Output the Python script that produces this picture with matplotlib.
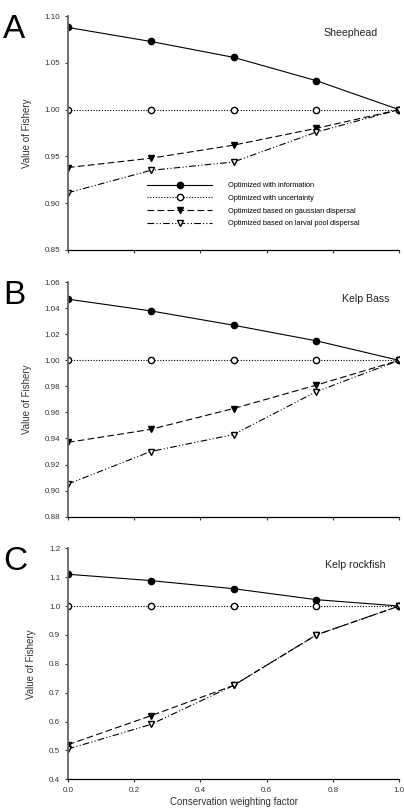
import matplotlib
matplotlib.use('Agg')
from matplotlib import pyplot as plt

plt.rcParams['font.family'] = ['Liberation Sans', 'DejaVu Sans']

weights = [0.0, 0.25, 0.5, 0.75, 1.0]

sheephead_info = [1.088, 1.073, 1.056, 1.031, 1.000]
sheephead_unc = [1.0, 1.0, 1.0, 1.0, 1.0]
sheephead_gauss = [0.938, 0.948, 0.962, 0.980, 1.000]
sheephead_larval = [0.911, 0.935, 0.944, 0.976, 1.000]

kelpbass_info = [1.047, 1.038, 1.027, 1.015, 1.000]
kelpbass_unc = [1.0, 1.0, 1.0, 1.0, 1.0]
kelpbass_gauss = [0.937, 0.947, 0.963, 0.981, 1.000]
kelpbass_larval = [0.905, 0.930, 0.943, 0.976, 1.000]

rockfish_info = [1.110, 1.088, 1.060, 1.022, 1.000]
rockfish_unc = [1.0, 1.0, 1.0, 1.0, 1.0]
rockfish_gauss = [0.520, 0.620, 0.725, 0.900, 1.000]
rockfish_larval = [0.505, 0.590, 0.725, 0.900, 1.000]

labels = ['Optimized with information', 'Optimized with uncertainty',
          'Optimized based on gaussian dispersal', 'Optimized based on larval pool dispersal']


def draw_panel(ax, info, unc, gauss, larval, ylim, yticks, fmt, letter, name, name_x):
    lw = 0.8
    ms = 4.5
    ax.plot(weights, info, color='black', lw=lw, marker='o', ms=ms, mfc='black', mec='black', label=labels[0])
    ax.plot(weights, unc, color='black', lw=lw, ls=(0, (1, 1.5)), marker='o', ms=ms, mfc='white', mec='black', label=labels[1])
    ax.plot(weights, gauss, color='black', lw=lw, ls=(0, (6, 3)), marker='v', ms=ms, mfc='black', mec='black', label=labels[2])
    ax.plot(weights, larval, color='black', lw=lw, ls=(0, (6, 2, 1, 2, 1, 2)), marker='v', ms=ms, mfc='white', mec='black', label=labels[3])
    ax.set_xlim(0, 1.0)
    ax.set_ylim(*ylim)
    ax.set_yticks(yticks)
    ax.set_yticklabels([fmt.format(v) for v in yticks])
    ax.set_xticks([0.0, 0.2, 0.4, 0.6, 0.8, 1.0])
    for s in ['top', 'right']:
        ax.spines[s].set_visible(False)
    ax.spines['left'].set_color('#666666')
    ax.spines['left'].set_linewidth(1.3)
    ax.spines['bottom'].set_linewidth(0.9)
    ax.tick_params(direction='out', length=2.5, width=0.8, labelsize=5.8, colors='#333333', pad=3)
    ax.set_ylabel('Value of Fishery', fontsize=7, color='#333333', labelpad=9)
    ax.text(-0.195, 1.01, letter, transform=ax.transAxes, fontsize=24, va='top', ha='left')
    ax.text(name_x, 0.927, name, transform=ax.transAxes, fontsize=7.6, ha='right', va='center', color='#222222')


fig = plt.figure(figsize=(4.04, 8.11), dpi=100)
ax_a = fig.add_axes([0.168, 0.692, 0.820, 0.288])
ax_b = fig.add_axes([0.168, 0.363, 0.820, 0.289])
ax_c = fig.add_axes([0.168, 0.039, 0.820, 0.285])

draw_panel(ax_a, sheephead_info, sheephead_unc, sheephead_gauss, sheephead_larval,
           (0.85, 1.10), [0.85, 0.90, 0.95, 1.00, 1.05, 1.10], '{:.2f}', 'A', 'Sheephead', 0.935)
draw_panel(ax_b, kelpbass_info, kelpbass_unc, kelpbass_gauss, kelpbass_larval,
           (0.88, 1.06), [0.88, 0.90, 0.92, 0.94, 0.96, 0.98, 1.00, 1.02, 1.04, 1.06], '{:.2f}', 'B', 'Kelp Bass', 0.97)
draw_panel(ax_c, rockfish_info, rockfish_unc, rockfish_gauss, rockfish_larval,
           (0.4, 1.2), [0.4, 0.5, 0.6, 0.7, 0.8, 0.9, 1.0, 1.1, 1.2], '{:.1f}', 'C', 'Kelp rockfish', 0.96)

ax_a.set_xticklabels([])
ax_b.set_xticklabels([])
ax_c.set_xticklabels(['0.0', '0.2', '0.4', '0.6', '0.8', '1.0'])
ax_c.set_xlabel('Conservation weighting factor', fontsize=7, color='#333333', labelpad=2)

ax_a.legend(loc='upper left', bbox_to_anchor=(0.24, 0.29), frameon=False, fontsize=5.3,
            handlelength=8.8, handletextpad=2.2, labelspacing=0.75, borderpad=0, borderaxespad=0)

fig.savefig('out.png', dpi=100)
